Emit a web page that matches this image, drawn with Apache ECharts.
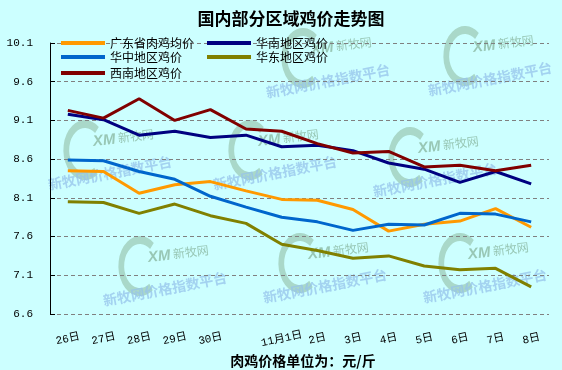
<!DOCTYPE html>
<html><head><meta charset="utf-8">
<script src="https://cdn.jsdelivr.net/npm/echarts@6/dist/echarts.min.js"></script>
<style>html,body{margin:0;padding:0;background:#CCFFFF}#c{width:562px;height:370px}</style>
</head><body><div id="c"></div>
<script>
// ---- data ----
const titleText = '国内部分区域鸡价走势图';
const unitText = '肉鸡价格单位为：元/斤';
const categories = ['26日','27日','28日','29日','30日','31日','11月1日','2日','3日','4日','5日','6日','7日','8日'];
const tickLabels = ['26日','27日','28日','29日','30日','','11月1日','2日','3日','4日','5日','6日','7日','8日'];
const seriesNames = ['广东省肉鸡均价','华南地区鸡价','华中地区鸡价','华东地区鸡价','西南地区鸡价'];
const guangdong = [8.45, 8.44, 8.16, 8.27, 8.31, 8.19, 8.08, 8.07, 7.95, 7.67, 7.76, 7.80, 7.96, 7.72];
const huanan    = [9.18, 9.11, 8.91, 8.96, 8.88, 8.91, 8.76, 8.78, 8.71, 8.55, 8.47, 8.30, 8.44, 8.28];
const huazhong  = [8.59, 8.58, 8.44, 8.34, 8.12, 7.98, 7.85, 7.79, 7.68, 7.76, 7.75, 7.90, 7.89, 7.79];
const huadong   = [8.05, 8.04, 7.90, 8.02, 7.87, 7.77, 7.50, 7.42, 7.32, 7.35, 7.22, 7.17, 7.19, 6.95];
const xinan     = [9.23, 9.13, 9.38, 9.10, 9.24, 8.99, 8.96, 8.80, 8.68, 8.70, 8.50, 8.52, 8.45, 8.52];
const yMin = 6.6, yMax = 10.1, yStep = 0.5;
const watermarkText = '新牧网价格指数平台';
const logoText = '新牧网';

// ---- styling ----
const colors = ['#FF9900', '#000080', '#0066CC', '#808000', '#800000'];
const seriesData = [guangdong, huanan, huazhong, huadong, xinan];
const legendPos = [[61, 37], [207, 37], [61, 51], [207, 51], [61, 67]];
const wmAnchors = [[303, 58], [465, 56], [85, 150], [250, 150], [410, 157], [140, 266], [300, 263], [460, 263]];

function watermark(cx, cy) {
  return {
    type: 'group', x: cx, y: cy, z: 1, silent: true,
    children: [
      { type: 'arc', shape: { cx: 0, cy: 0, r: 26, startAngle: Math.PI * 0.3, endAngle: Math.PI * 1.72, clockwise: true },
        scaleX: 0.72, style: { fill: null, stroke: 'rgba(145,190,165,0.6)', lineWidth: 8 } },
      { type: 'text', x: 8, y: -8, rotation: 0.12,
        style: { text: 'XM', font: 'italic bold 15px "Liberation Sans"', fill: 'rgba(130,175,150,0.7)', verticalAlign: 'middle' } },
      { type: 'text', x: 33, y: -12, rotation: 0.12,
        style: { text: logoText, font: '12px "Noto Sans CJK SC"', fill: 'rgba(130,175,150,0.7)', verticalAlign: 'middle' } },
      { type: 'text', x: 25, y: 23, rotation: 0.19,
        style: { text: watermarkText, font: 'bold 14px "Noto Sans CJK SC"', fill: 'rgba(150,195,235,0.75)', align: 'center', verticalAlign: 'middle' } }
    ]
  };
}

const chart = echarts.init(document.getElementById('c'), null, { renderer: 'canvas' });
chart.setOption({
  animation: false,
  backgroundColor: '#CCFFFF',
  grid: { left: 50, right: 13, top: 43, bottom: 56, containLabel: false },
  legend: seriesNames.map((n, i) => ({
    data: [n], left: legendPos[i][0], top: legendPos[i][1], padding: 0,
    icon: 'rect', itemWidth: 44, itemHeight: 4, selectedMode: false,
    textStyle: { fontSize: 12, color: '#000', fontFamily: '"Noto Sans CJK SC"' }
  })),
  xAxis: {
    type: 'category', data: categories, boundaryGap: true,
    axisLine: { show: false }, axisTick: { show: false },
    axisLabel: {
      interval: 0, rotate: 12, align: 'center', margin: 25,
      formatter: (v, i) => tickLabels[i],
      fontSize: 11, color: '#000', fontFamily: '"Liberation Mono","Noto Sans CJK SC"'
    }
  },
  yAxis: {
    type: 'value', min: yMin, max: yMax, interval: yStep,
    axisLine: { show: true, lineStyle: { color: '#000', width: 1 } },
    axisTick: { show: true, inside: true, length: 5, lineStyle: { color: '#000' } },
    axisLabel: { margin: 17, fontSize: 11, color: '#000', fontFamily: '"Liberation Mono"',
      formatter: v => v.toFixed(1) },
    splitLine: { show: true, lineStyle: { color: '#808080', type: [4, 3], width: 1 } }
  },
  graphic: [
    ...wmAnchors.map(a => watermark(a[0], a[1])),
    { type: 'text', x: 291, y: 19, z: 10,
      style: { text: titleText, font: 'bold 17px "Noto Sans CJK SC"', fill: '#000', align: 'center', verticalAlign: 'middle' } },
    { type: 'text', x: 303, y: 361, z: 10,
      style: { text: unitText, font: 'bold 14px "Noto Sans CJK SC"', fill: '#000', align: 'center', verticalAlign: 'middle' } }
  ],
  series: seriesNames.map((n, i) => ({
    name: n, type: 'line', data: seriesData[i], symbol: 'none', showSymbol: false,
    itemStyle: { color: colors[i] },
    lineStyle: { color: colors[i], width: 3 }, z: 3
  }))
});
</script>
</body></html>
